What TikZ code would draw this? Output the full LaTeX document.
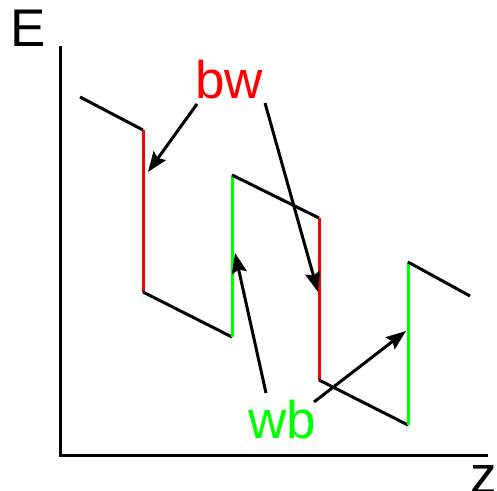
\documentclass[tikz,border=0pt]{standalone}
\usepackage{fontspec}
\setmainfont{Liberation Sans}
\usetikzlibrary{arrows.meta}
\definecolor{pured}{RGB}{255,0,0}
\definecolor{pugreen}{RGB}{0,255,0}
\tikzset{
  seg/.style={line width=3pt, line cap=butt},
  blackseg/.style={seg, black},
  redseg/.style={seg, pured},
  greenseg/.style={seg, pugreen},
  axis/.style={line width=3pt, black},
  pointer/.style={line width=3pt, black, -{Stealth[length=20pt,width=15pt,inset=3pt]}},
  lbl/.style={font=\fontsize{53}{60}\selectfont, inner sep=0pt, anchor=base}
}
\begin{document}
\begin{tikzpicture}[x=1pt,y=-1pt]
\useasboundingbox (0,0) rectangle (497,490);
% axes
\coordinate (top) at (60,46);
\coordinate (origin) at (60,455);
\coordinate (right) at (488,455);
\draw[axis] (top) -- (origin) -- (right);
\node[lbl] (E) at (28,46) {E};
\node[lbl] (z) at (484,493) {z};
% profile points
\coordinate (p0) at (80,97);
\coordinate (p1) at (143,130);
\coordinate (p2) at (143,292);
\coordinate (p3) at (232,337);
\coordinate (p4) at (232,175);
\coordinate (p5) at (319,218);
\coordinate (p6) at (319,380);
\coordinate (p7) at (408,425);
\coordinate (p8) at (408,262);
\coordinate (p9) at (470,296);
\draw[blackseg] (p0) -- (p1);
\draw[redseg] (p1) -- (p2);
\draw[blackseg] (p2) -- (p3);
\draw[greenseg] (p3) -- (p4);
\draw[blackseg] (p4) -- (p5);
\draw[redseg] (p5) -- (p6);
\draw[blackseg] (p6) -- (p7);
\draw[greenseg] (p7) -- (p8);
\draw[blackseg] (p8) -- (p9);
% labels
\node[lbl, text=pured] (bw) at (229,98) {bw};
\node[lbl, text=pugreen] (wb) at (282,438) {wb};
% arrows
\coordinate (a1s) at (197,104);
\coordinate (a1e) at (148,172);
\coordinate (a2s) at (265,103);
\coordinate (a2e) at (318,292);
\coordinate (a3s) at (266,393);
\coordinate (a3e) at (235,253);
\coordinate (a4s) at (314,402);
\coordinate (a4e) at (406,331);
\draw[pointer] (a1s) -- (a1e);
\draw[pointer] (a2s) -- (a2e);
\draw[pointer] (a3s) -- (a3e);
\draw[pointer] (a4s) -- (a4e);
\end{tikzpicture}
\end{document}
